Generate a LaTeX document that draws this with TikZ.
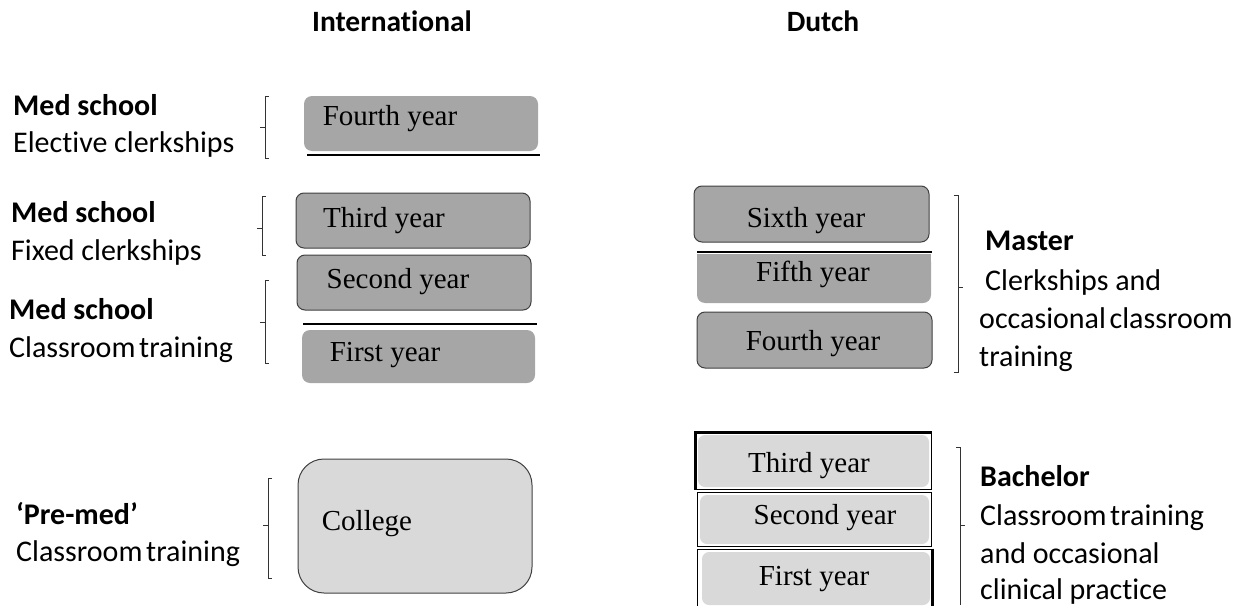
\documentclass[tikz,border=0pt]{standalone}
\usepackage{fontspec}
\setmainfont{Carlito}[Ligatures=NoCommon]
\newfontfamily\tnr{Liberation Serif}
\definecolor{boxdark}{HTML}{A6A6A6}
\definecolor{boxlight}{HTML}{D9D9D9}
\begin{document}
\begin{tikzpicture}[x=1pt,y=-1pt,
  lab/.style={anchor=base west, inner sep=0pt, font=\fontsize{30}{36}\selectfont},
  blab/.style={anchor=base west, inner sep=0pt, font=\bfseries\fontsize{30}{36}\selectfont},
  head/.style={anchor=base, inner sep=0pt, font=\bfseries\fontsize{29.5}{35}\selectfont},
  yr/.style={anchor=base, inner sep=0pt, font=\tnr\fontsize{29}{35}\selectfont},
  darkbox/.style={fill=boxdark, draw=black!75, line width=1pt, rounded corners=8pt, inner sep=0pt},
  darkflat/.style={fill=boxdark, draw=none, rounded corners=8pt, inner sep=0pt},
  college/.style={fill=boxlight, draw=black!75, line width=1pt, rounded corners=26pt, inner sep=0pt},
  outerrect/.style={draw=black, line width=1pt, inner sep=0pt},
  sepline/.style={line width=1.3pt, black},
  brack/.style={line width=0.9pt, black!80}
]
\useasboundingbox (0,0) rectangle (1242,605);

% headers
\node[head] (hInt) at (392,31) {International};
\node[head] (hDut) at (823,31) {Dutch};

% ---------- International column ----------
\node[darkflat, minimum width=234pt, minimum height=55pt] (i4) at (421,123.5) {};
\node[yr] (i4t) at (390,125) {Fourth year};
\draw[sepline] (307,155) -- (540,155);

\node[darkbox, minimum width=234pt, minimum height=55pt] (i3) at (413,220.5) {};
\node[yr] (i3t) at (384,227) {Third year};

\node[darkbox, minimum width=234pt, minimum height=55pt] (i2) at (414,282.5) {};
\node[yr] (i2t) at (398,288) {Second year};
\draw[sepline] (303,324) -- (537,324);

\node[darkflat, minimum width=233pt, minimum height=53pt] (i1) at (418.5,356.5) {};
\node[yr] (i1t) at (385,361) {First year};

\node[college, minimum width=234pt, minimum height=134pt] (ic) at (415,526) {};
\node[yr] (ict) at (367,530) {College};

% left labels
\node[blab] (l1a) at (13,115) {Med school};
\node[lab]  (l1b) at (13,152) {Elective clerkships};
\node[blab] (l2a) at (11,222) {Med school};
\node[lab]  (l2b) at (11,260) {Fixed clerkships};
\node[blab] (l3a) at (9,319) {Med school};
\node[lab]  (l3b) at (9,357) {Classroom\hspace{-3pt} training};
\node[blab] (l4a) at (16,524) {‘Pre-med’};
\node[lab]  (l4b) at (16,561) {Classroom\hspace{-3pt} training};

% left brackets
\draw[brack] (269,96) -- (265,96) -- (265,158) -- (269,158);
\draw[brack] (265,127) -- (260,127);
\draw[brack] (266,196) -- (262,196) -- (262,255) -- (266,255);
\draw[brack] (262,228) -- (257,228);
\draw[brack] (269,280) -- (265,280) -- (265,363) -- (269,363);
\draw[brack] (265,322) -- (260,322);
\draw[brack] (272,478) -- (268,478) -- (268,578) -- (272,578);
\draw[brack] (268,525) -- (263,525);

% ---------- Dutch column ----------
\node[darkbox, minimum width=235pt, minimum height=56pt] (d6) at (811.5,214) {};
\node[yr] (d6t) at (806,227) {Sixth year};
\draw[sepline] (697,252) -- (932,252);

\fill[boxdark, rounded corners=8pt] (697,254) rectangle (931,303);
\fill[boxdark] (697,254) rectangle (931,262);
\node[yr] (d5t) at (813,281) {Fifth year};

\node[darkbox, minimum width=235pt, minimum height=56pt] (d4) at (814.5,340) {};
\node[yr] (d4t) at (813,350) {Fourth year};

% bachelor boxes
\fill[boxlight, rounded corners=7pt] (698,435) rectangle (929,487);
\node[outerrect, minimum width=236pt, minimum height=57pt] (d3) at (813,460.5) {};
\draw[line width=3pt] ([xshift=1pt]d3.south west) -- ([xshift=1pt,yshift=-1pt]d3.north west) -- ([yshift=-1pt]d3.north east);
\node[yr] (d3t) at (809,472) {Third year};

\fill[boxlight, rounded corners=7pt] (700,495) rectangle (929,544);
\node[outerrect, minimum width=234pt, minimum height=54pt] (d2) at (814,519) {};
\node[yr] (d2t) at (825,524) {Second year};

\fill[boxlight, rounded corners=7pt] (702,552) rectangle (930,605);
\node[outerrect, minimum width=236pt, minimum height=60pt] (d1) at (815,579) {};
\draw[line width=3pt] ([xshift=-1pt]d1.north east) -- ([xshift=-1pt]d1.south east);
\node[yr] (d1t) at (814,585) {First year};

% right brackets
\draw[brack] (954,195) -- (958,195) -- (958,372) -- (954,372);
\draw[brack] (958,287) -- (963,287);
\draw[brack] (956,447) -- (960,447) -- (960,605);
\draw[brack] (960,525) -- (965,525);

% right labels
\node[blab] (r1a) at (985,250) {Master};
\node[lab]  (r1b) at (985,290) {Clerkships and};
\node[lab]  (r1c) at (979,328) {occasional\hspace{-3pt} classroom};
\node[lab]  (r1d) at (979,366) {training};
\node[blab] (r2a) at (980,486) {Bachelor};
\node[lab]  (r2b) at (980,525) {Classroom\hspace{-3pt} training};
\node[lab]  (r2c) at (980,563) {and occasional};
\node[lab]  (r2d) at (980,599) {clinical practice};
\end{tikzpicture}
\end{document}
